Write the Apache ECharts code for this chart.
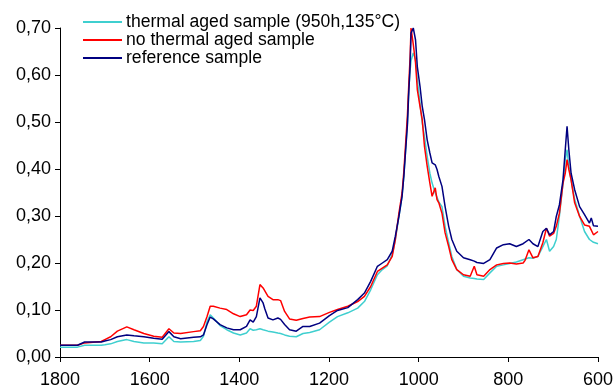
<!DOCTYPE html>
<html>
<head>
<meta charset="utf-8">
<script src="https://cdn.jsdelivr.net/npm/echarts@6/dist/echarts.min.js"></script>
<style>html,body{margin:0;padding:0;background:#fff}#c{width:616px;height:390px}</style>
</head>
<body>
<div id="c"></div>
<script>
const seriesNames = ["thermal aged sample (950h,135°C)", "no thermal aged sample", "reference sample"];
const xTicks = [1800, 1600, 1400, 1200, 1000, 800, 600];
const yTicks = [0, 0.1, 0.2, 0.3, 0.4, 0.5, 0.6, 0.7];

const wavenumber = [1800,1761,1758,1745,1708,1700,1687,1672,1651,1635,1613,1591,1572,1557,1546,1531,1502,1487,1480,1472,1465,1458,1443,1428,1413,1398,1384,1376,1369,1362,1354,1347,1343,1336,1325,1314,1308,1299,1288,1273,1258,1243,1221,1199,1181,1158,1136,1121,1107,1092,1081,1070,1059,1052,1044,1037,1033,1025,1022,1019,1017,1012,1007,1003,997,992,987,981,975,970,963,959,955,948,941,933,926,915,900,885,876,870,855,841,826,811,797,782,767,763,754,745,734,723,715,708,699,693,686,678,673,669,665,660,652,641,630,619,615,610,600];

const noThermal = [0.025,0.025,0.025,0.030,0.033,0.037,0.043,0.055,0.064,0.058,0.050,0.044,0.042,0.060,0.051,0.050,0.054,0.056,0.065,0.086,0.108,0.108,0.104,0.101,0.092,0.086,0.090,0.100,0.099,0.108,0.154,0.147,0.150,0.129,0.122,0.122,0.120,0.097,0.081,0.078,0.082,0.085,0.086,0.095,0.101,0.108,0.118,0.129,0.150,0.182,0.189,0.196,0.214,0.250,0.306,0.349,0.395,0.515,0.580,0.640,0.700,0.665,0.626,0.569,0.533,0.505,0.448,0.406,0.370,0.342,0.360,0.335,0.328,0.306,0.264,0.235,0.207,0.186,0.175,0.172,0.193,0.175,0.172,0.186,0.196,0.199,0.200,0.198,0.200,0.205,0.228,0.211,0.214,0.243,0.274,0.257,0.263,0.278,0.306,0.370,0.391,0.420,0.399,0.377,0.328,0.299,0.281,0.278,0.278,0.260,0.267];

const reference = [0.025,0.025,0.028,0.032,0.032,0.034,0.037,0.043,0.047,0.045,0.043,0.040,0.038,0.054,0.043,0.039,0.042,0.043,0.047,0.069,0.085,0.081,0.069,0.062,0.058,0.058,0.065,0.079,0.074,0.086,0.126,0.115,0.102,0.083,0.079,0.083,0.080,0.069,0.058,0.055,0.065,0.065,0.072,0.088,0.099,0.105,0.122,0.136,0.161,0.193,0.200,0.207,0.225,0.257,0.299,0.342,0.385,0.495,0.565,0.620,0.689,0.700,0.675,0.618,0.576,0.533,0.505,0.462,0.434,0.413,0.409,0.399,0.384,0.363,0.320,0.278,0.250,0.225,0.211,0.207,0.204,0.201,0.199,0.207,0.232,0.239,0.241,0.235,0.241,0.243,0.250,0.241,0.235,0.267,0.274,0.260,0.267,0.299,0.324,0.377,0.441,0.491,0.441,0.391,0.356,0.320,0.303,0.285,0.296,0.279,0.278];

const thermalAged = [0.021,0.021,0.023,0.025,0.025,0.026,0.028,0.033,0.037,0.033,0.030,0.030,0.028,0.043,0.033,0.032,0.033,0.035,0.044,0.075,0.090,0.083,0.067,0.058,0.051,0.047,0.051,0.060,0.057,0.058,0.060,0.058,0.057,0.055,0.053,0.051,0.050,0.047,0.044,0.043,0.050,0.052,0.058,0.074,0.086,0.094,0.104,0.118,0.143,0.175,0.186,0.194,0.218,0.250,0.299,0.342,0.385,0.500,0.570,0.610,0.630,0.647,0.633,0.590,0.540,0.498,0.469,0.427,0.391,0.370,0.349,0.349,0.330,0.320,0.278,0.243,0.214,0.186,0.172,0.168,0.167,0.166,0.165,0.179,0.193,0.196,0.199,0.202,0.207,0.209,0.211,0.210,0.214,0.235,0.250,0.225,0.235,0.250,0.300,0.370,0.420,0.441,0.406,0.377,0.335,0.300,0.267,0.250,0.246,0.244,0.241];

const pairs = vals => wavenumber.map((w, i) => [w, vals[i]]);
const colors = ['#3fcfcf', '#ff0000', '#000080'];
const font = 'Liberation Sans, Arial, sans-serif';

const chart = echarts.init(document.getElementById('c'), null, {renderer: 'canvas'});
chart.setOption({
  animation: false,
  backgroundColor: '#fff',
  color: colors,
  grid: {left: 60, right: 14, top: 28, bottom: 33, containLabel: false},
  legend: {
    orient: 'vertical', left: 83, top: 13, padding: 0, itemGap: 0,
    icon: 'rect', itemWidth: 39, itemHeight: 2,
    textStyle: {fontFamily: font, fontSize: 17.6, lineHeight: 16, color: '#000', padding: [0, 0, 0, -1]},
    data: seriesNames
  },
  xAxis: {
    type: 'value', inverse: true, min: xTicks[xTicks.length - 1], max: xTicks[0], interval: 200,
    axisLine: {lineStyle: {color: '#000', width: 1}},
    axisTick: {show: true, length: 5, lineStyle: {color: '#000'}},
    splitLine: {show: false},
    axisLabel: {margin: 14, color: '#000', fontFamily: font, fontSize: 18, formatter: v => String(v)}
  },
  yAxis: {
    type: 'value', min: yTicks[0], max: yTicks[yTicks.length - 1], interval: 0.1,
    axisLine: {show: true, lineStyle: {color: '#000', width: 1}},
    axisTick: {show: true, length: 5, lineStyle: {color: '#000'}},
    splitLine: {show: false},
    axisLabel: {margin: 9, color: '#000', fontFamily: font, fontSize: 18, formatter: v => v.toFixed(2).replace('.', ',')}
  },
  series: [
    {name: seriesNames[0], type: 'line', data: pairs(thermalAged), showSymbol: false, lineStyle: {width: 1.5}, z: 2},
    {name: seriesNames[1], type: 'line', data: pairs(noThermal), showSymbol: false, lineStyle: {width: 1.5}, z: 3},
    {name: seriesNames[2], type: 'line', data: pairs(reference), showSymbol: false, lineStyle: {width: 1.5}, z: 4}
  ]
});
</script>
</body>
</html>
